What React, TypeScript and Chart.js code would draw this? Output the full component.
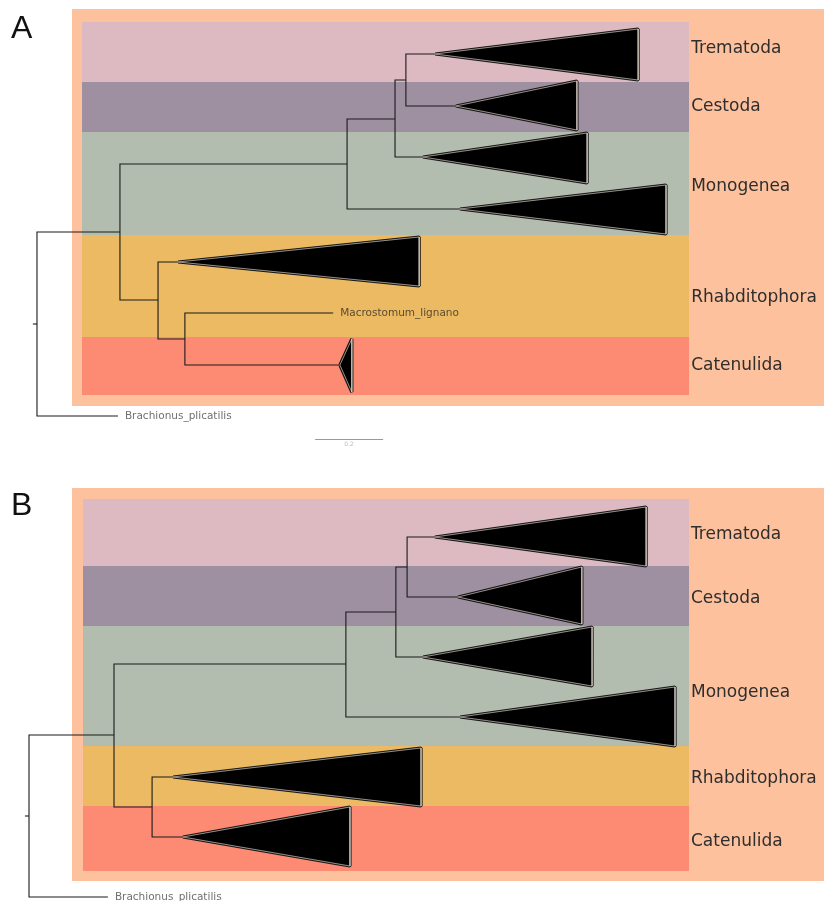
import React, { useEffect, useRef } from "react";
import { Chart, registerables } from "chart.js";

Chart.register(...registerables);

// ---------- shared ----------
const CLADES = ["Trematoda", "Cestoda", "Monogenea", "Rhabditophora", "Catenulida"];
const BAND_COLORS = ["#DDB9C1", "#9E90A1", "#B3BDAF", "#EBBA62", "#FD8A72"];
const FRAME_COLOR = "#FDC19D";

// ---------- panel A data (depth = branch length from root, y = leaf position) ----------
const A_NODE_IDS = ["root", "ingroup", "brach", "parasites", "turb", "n3", "mono2", "n4", "mono1", "trem", "cest", "rhab", "n6", "macro", "cat"];
const A_NODE_PARENT = [null, "root", "root", "ingroup", "ingroup", "parasites", "parasites", "n3", "n3", "n4", "n4", "turb", "turb", "n6", "n6"];
const A_NODE_DEPTH = [0, 0.244, 0.238, 0.912, 0.356, 1.053, 1.244, 1.085, 1.135, 1.171, 1.232, 0.415, 0.435, 0.871, 0.891];
const A_NODE_Y = [32.4, 23.2, 41.6, 16.4, 30.0, 11.9, 20.9, 8.0, 15.7, 5.4, 10.6, 26.2, 33.9, 31.3, 36.5];
const A_COLLAPSED = ["trem", "cest", "mono1", "mono2", "rhab", "cat"];
const A_COLLAPSED_TIP = [1.768, 1.588, 1.618, 1.85, 1.124, 0.926];
const A_COLLAPSED_TOP = [2.9, 8.1, 13.3, 18.5, 23.7, 33.9];
const A_COLLAPSED_BOTTOM = [8.0, 13.0, 18.3, 23.4, 28.6, 39.2];
const A_LEAVES = ["brach", "macro"];
const A_LEAF_TEXT = ["Brachionus_plicatilis", "Macrostomum_lignano"];
const A_BAND_EDGES = [2.2, 8.2, 13.2, 23.5, 33.7, 39.5];
const A_LABEL_Y = [4.9, 10.7, 18.7, 29.8, 36.6];
const A_SCALE_BAR = [0.818, 1.018];
const A_SCALE_LABEL = "0.2";

// ---------- panel B data ----------
const B_NODE_IDS = ["root", "ingroup", "brach", "parasites", "turb", "n3", "mono2", "n4", "mono1", "trem", "cest", "rhab", "cat"];
const B_NODE_PARENT = [null, "root", "root", "ingroup", "ingroup", "parasites", "parasites", "n3", "n3", "n4", "n4", "turb", "turb"];
const B_NODE_DEPTH = [0, 0.25, 0.232, 0.932, 0.362, 1.079, 1.268, 1.112, 1.159, 1.194, 1.262, 0.424, 0.453];
const B_NODE_Y = [36.6, 28.5, 44.7, 21.4, 35.7, 16.2, 26.7, 11.7, 20.7, 8.7, 14.7, 32.7, 38.7];
const B_COLLAPSED = ["trem", "cest", "mono1", "mono2", "rhab", "cat"];
const B_COLLAPSED_TIP = [1.815, 1.626, 1.656, 1.9, 1.153, 0.944];
const B_COLLAPSED_TOP = [5.7, 11.7, 17.7, 23.7, 29.8, 35.7];
const B_COLLAPSED_BOTTOM = [11.6, 17.4, 23.6, 29.6, 35.6, 41.6];
const B_LEAVES = ["brach"];
const B_LEAF_TEXT = ["Brachionus_plicatilis"];
const B_BAND_EDGES = [4.9, 11.6, 17.6, 29.6, 35.6, 42.1];
const B_LABEL_Y = [8.5, 14.9, 24.3, 32.9, 39.2];

// ---------- layout (per panel) ----------
type Panel = {
  letter: string;
  height: number;
  xRange: [number, number];
  yRange: [number, number];
  frameX: [number, number];
  frameY: [number, number];
  bandX: [number, number];
  labelX: number;
  letterPos: [number, number];
  ids: string[];
  parents: (string | null)[];
  depth: number[];
  ys: number[];
  collapsed: string[];
  tip: number[];
  top: number[];
  bottom: number[];
  leaves: string[];
  leafText: string[];
  leafColors: string[];
  bandEdges: number[];
  labelY: number[];
  scaleBar?: number[];
  scaleLabel?: string;
  scaleY?: number;
};

const PANEL_A: Panel = {
  letter: "A",
  height: 450,
  xRange: [-0.1088, 2.3147],
  yRange: [0, 45],
  frameX: [0.103, 2.4],
  frameY: [0.9, 40.6],
  bandX: [0.132, 1.918],
  labelX: 1.921,
  letterPos: [11, 38],
  ids: A_NODE_IDS,
  parents: A_NODE_PARENT,
  depth: A_NODE_DEPTH,
  ys: A_NODE_Y,
  collapsed: A_COLLAPSED,
  tip: A_COLLAPSED_TIP,
  top: A_COLLAPSED_TOP,
  bottom: A_COLLAPSED_BOTTOM,
  leaves: A_LEAVES,
  leafText: A_LEAF_TEXT,
  leafColors: ["#707070", "#5b4a32"],
  bandEdges: A_BAND_EDGES,
  labelY: A_LABEL_Y,
  scaleBar: A_SCALE_BAR,
  scaleLabel: A_SCALE_LABEL,
  scaleY: 43.9,
};

const PANEL_B: Panel = {
  letter: "B",
  height: 451,
  xRange: [-0.0853, 2.3382],
  yRange: [0, 45.1],
  frameX: [0.126, 2.4],
  frameY: [3.8, 43.1],
  bandX: [0.159, 1.941],
  labelX: 1.944,
  letterPos: [11, 65],
  ids: B_NODE_IDS,
  parents: B_NODE_PARENT,
  depth: B_NODE_DEPTH,
  ys: B_NODE_Y,
  collapsed: B_COLLAPSED,
  tip: B_COLLAPSED_TIP,
  top: B_COLLAPSED_TOP,
  bottom: B_COLLAPSED_BOTTOM,
  leaves: B_LEAVES,
  leafText: B_LEAF_TEXT,
  leafColors: ["#707070"],
  bandEdges: B_BAND_EDGES,
  labelY: B_LABEL_Y,
};

function buildDatasets(p: Panel) {
  const idx = (id: string) => p.ids.indexOf(id);
  const ds: any[] = [];
  const base = {
    showLine: true,
    pointRadius: 0,
    pointHoverRadius: 0,
    tension: 0,
    borderJoinStyle: "miter",
    borderCapStyle: "butt",
  };
  // branches
  p.ids.forEach((id, i) => {
    const par = p.parents[i];
    if (!par) return;
    const j = idx(par);
    ds.push({
      ...base,
      data: [
        { x: p.depth[j], y: p.ys[j] },
        { x: p.depth[j], y: p.ys[i] },
        { x: p.depth[i], y: p.ys[i] },
      ],
      borderColor: "#1a1a1a",
      borderWidth: 1.1,
      fill: false,
      order: 3,
    });
  });
  // root stub
  const r = idx("root");
  ds.push({
    ...base,
    data: [
      { x: p.depth[r] - 0.012, y: p.ys[r] },
      { x: p.depth[r], y: p.ys[r] },
    ],
    borderColor: "#1a1a1a",
    borderWidth: 1.1,
    fill: false,
    order: 3,
  });
  // collapsed clades (triangles)
  p.collapsed.forEach((id, k) => {
    const i = idx(id);
    const pts = [
      { x: p.depth[i], y: p.ys[i] },
      { x: p.tip[k], y: p.top[k] },
      { x: p.tip[k], y: p.bottom[k] },
      { x: p.depth[i], y: p.ys[i] },
    ];
    ds.push({
      ...base,
      data: pts,
      borderColor: "#151515",
      borderWidth: 3.2,
      borderJoinStyle: "bevel",
      fill: false,
      order: 2,
    });
    ds.push({
      ...base,
      data: pts,
      borderColor: "rgba(235,222,210,0.7)",
      backgroundColor: "#000",
      borderWidth: 0.9,
      borderJoinStyle: "bevel",
      fill: "shape",
      order: 1,
    });
  });
  return ds;
}

function makeDecor(p: Panel) {
  return {
    id: "treeDecor",
    beforeDatasetsDraw(chart: any) {
      const { ctx } = chart;
      const xs = chart.scales.x;
      const ys = chart.scales.y;
      ctx.save();
      const fx0 = Math.round(xs.getPixelForValue(p.frameX[0]));
      const fx1 = Math.round(xs.getPixelForValue(p.frameX[1]));
      const fy0 = Math.round(ys.getPixelForValue(p.frameY[0]));
      const fy1 = Math.round(ys.getPixelForValue(p.frameY[1]));
      ctx.fillStyle = FRAME_COLOR;
      ctx.fillRect(fx0, fy0, fx1 - fx0, fy1 - fy0);
      const bx0 = Math.round(xs.getPixelForValue(p.bandX[0]));
      const bx1 = Math.round(xs.getPixelForValue(p.bandX[1]));
      CLADES.forEach((_, k) => {
        const y0 = Math.round(ys.getPixelForValue(p.bandEdges[k]));
        const y1 = Math.round(ys.getPixelForValue(p.bandEdges[k + 1]));
        ctx.fillStyle = BAND_COLORS[k];
        ctx.fillRect(bx0, y0, bx1 - bx0, y1 - y0);
      });
      ctx.restore();
    },
    afterDatasetsDraw(chart: any) {
      const { ctx } = chart;
      const xs = chart.scales.x;
      const ys = chart.scales.y;
      ctx.save();
      // panel letter
      ctx.fillStyle = "#111";
      ctx.font = '32px "Liberation Sans", Arial, sans-serif';
      ctx.textBaseline = "alphabetic";
      ctx.textAlign = "left";
      ctx.fillText(p.letter, p.letterPos[0], p.letterPos[1]);
      // clade labels
      ctx.fillStyle = "#2e2e2e";
      ctx.font = '17px "DejaVu Sans", sans-serif';
      ctx.textBaseline = "middle";
      CLADES.forEach((name, k) => {
        ctx.fillText(name, xs.getPixelForValue(p.labelX) + 1, ys.getPixelForValue(p.labelY[k]));
      });
      // leaf labels
      ctx.font = '10.5px "DejaVu Sans", sans-serif';
      p.leaves.forEach((id, k) => {
        const i = p.ids.indexOf(id);
        ctx.fillStyle = p.leafColors[k];
        ctx.fillText(p.leafText[k], xs.getPixelForValue(p.depth[i]) + 7, ys.getPixelForValue(p.ys[i]) + 0.5);
      });
      // scale bar
      if (p.scaleBar) {
        const sy = ys.getPixelForValue(p.scaleY);
        ctx.strokeStyle = "#999";
        ctx.lineWidth = 1;
        ctx.beginPath();
        ctx.moveTo(xs.getPixelForValue(p.scaleBar[0]), Math.round(sy) + 0.5);
        ctx.lineTo(xs.getPixelForValue(p.scaleBar[1]), Math.round(sy) + 0.5);
        ctx.stroke();
        ctx.fillStyle = "#bbb";
        ctx.font = '6px "DejaVu Sans", sans-serif';
        ctx.textAlign = "center";
        ctx.fillText(
          p.scaleLabel || "",
          xs.getPixelForValue((p.scaleBar[0] + p.scaleBar[1]) / 2),
          sy + 5
        );
      }
      ctx.restore();
    },
  };
}

function TreePanel({ panel }: { panel: Panel }) {
  const ref = useRef<HTMLCanvasElement | null>(null);
  useEffect(() => {
    if (!ref.current) return;
    const chart = new Chart(ref.current, {
      type: "scatter",
      data: { datasets: buildDatasets(panel) },
      options: {
        responsive: false,
        animation: false,
        events: [],
        layout: { padding: 0 },
        plugins: { legend: { display: false }, tooltip: { enabled: false } },
        scales: {
          x: { type: "linear", display: false, min: panel.xRange[0], max: panel.xRange[1] },
          y: { type: "linear", display: false, reverse: true, min: panel.yRange[0], max: panel.yRange[1] },
        },
      },
      plugins: [makeDecor(panel)],
    } as any);
    return () => chart.destroy();
  }, [panel]);
  return <canvas ref={ref} width={824} height={panel.height} style={{ display: "block" }} />;
}

export default function App() {
  return (
    <div style={{ position: "absolute", left: 0, top: 0, width: 824, height: 901, background: "#fff", overflow: "hidden" }}>
      <TreePanel panel={PANEL_A} />
      <TreePanel panel={PANEL_B} />
    </div>
  );
}
